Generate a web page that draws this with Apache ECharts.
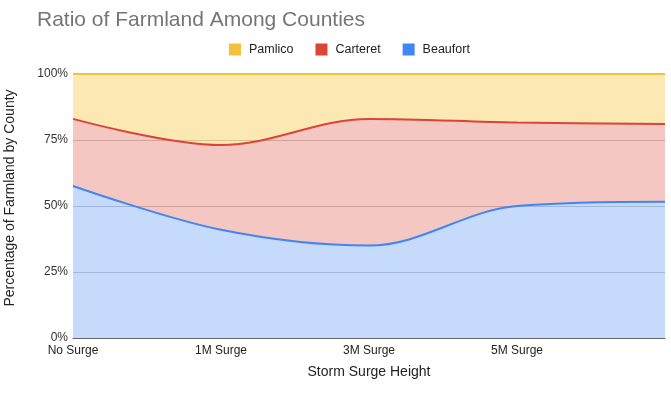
<!DOCTYPE html>
<html>
<head>
<meta charset="utf-8">
<script src="https://cdn.jsdelivr.net/npm/echarts@6/dist/echarts.min.js"></script>
<style>
html,body{margin:0;padding:0;background:#fff;}
#c{width:671px;height:395px;}
</style>
</head>
<body>
<div id="c"></div>
<script>
// Data (percent of farmland by county, stacked to 100%)
var categories = ['No Surge', '1M Surge', '3M Surge', '5M Surge', ''];
var beaufort = [57.6, 41.0, 35.0, 50.0, 51.6];
var carteret = [25.4, 32.1, 48.0, 31.6, 29.5];
var pamlico  = [17.0, 26.9, 17.0, 18.4, 18.9];
var yTicks = [0, 25, 50, 75, 100];

var FONT = '"Liberation Sans", Arial, sans-serif';
var chart = echarts.init(document.getElementById('c'), null, {renderer: 'canvas'});

function areaSeries(name, data, color, fill) {
  return {
    name: name,
    type: 'line',
    stack: 'total',
    smooth: 0.35,
    symbol: 'none',
    data: data,
    lineStyle: {color: color, width: 2},
    itemStyle: {color: color},
    areaStyle: {color: fill || color, opacity: 0.3},
    emphasis: {disabled: true}
  };
}

chart.setOption({
  animation: false,
  backgroundColor: '#ffffff',
  textStyle: {fontFamily: FONT},
  title: {
    text: 'Ratio of Farmland Among Counties',
    left: 37, top: 10, padding: 0,
    textStyle: {fontFamily: FONT, fontSize: 21, fontWeight: 'normal', color: '#757575'}
  },
  legend: {
    data: ['Pamlico', 'Carteret', 'Beaufort'],
    left: 229, top: 43, padding: 0,
    itemWidth: 12, itemHeight: 12, itemGap: 22,
    icon: 'rect',
    textStyle: {fontFamily: FONT, fontSize: 12.5, color: '#222', padding: [0, 0, 0, 3]}
  },
  grid: {left: 73, right: 6, top: 74, bottom: 57, containLabel: false, outerBoundsMode: 'none'},
  xAxis: {
    type: 'category',
    data: categories,
    boundaryGap: false,
    name: 'Storm Surge Height',
    nameLocation: 'middle',
    nameGap: 27,
    nameTextStyle: {fontFamily: FONT, fontSize: 14, color: '#222'},
    axisLine: {show: true, lineStyle: {color: '#666', width: 1}},
    axisTick: {show: false},
    axisLabel: {fontFamily: FONT, fontSize: 12, color: '#222', margin: 7},
    splitLine: {show: false}
  },
  yAxis: {
    type: 'value',
    min: yTicks[0], max: yTicks[yTicks.length - 1], interval: 25,
    name: 'Percentage of Farmland by County',
    nameLocation: 'middle',
    nameGap: 56,
    nameTextStyle: {fontFamily: FONT, fontSize: 14, color: '#222', padding: [0, 0, 0, 16]},
    axisLine: {show: false},
    axisTick: {show: false},
    axisLabel: {fontFamily: FONT, fontSize: 12, color: '#333', margin: 5, formatter: '{value}%'},
    splitLine: {show: true, lineStyle: {color: '#cccccc', width: 1}}
  },
  series: [
    areaSeries('Beaufort', beaufort, '#4285f4'),
    areaSeries('Carteret', carteret, '#db4437'),
    areaSeries('Pamlico', pamlico, '#f4c13a', '#f4b400')
  ]
});
</script>
</body>
</html>
